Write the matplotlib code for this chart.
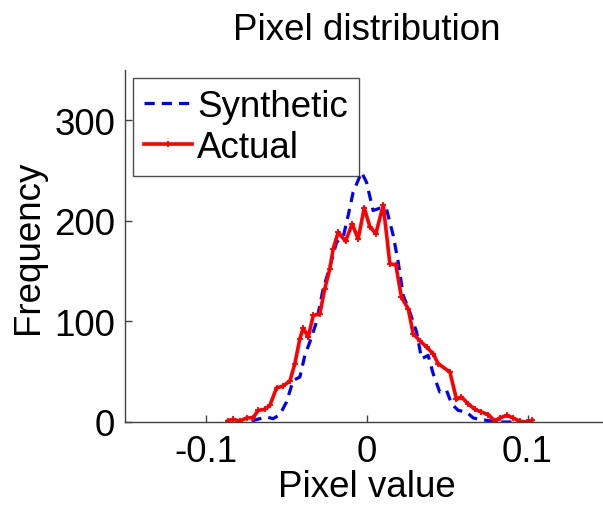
import matplotlib
matplotlib.use("Agg")
import matplotlib.pyplot as plt

plt.rcParams['font.family'] = ['Liberation Sans', 'DejaVu Sans']

# Data
syn_x = [-0.0714, -0.0663, -0.0621, -0.0580, -0.0538, -0.0497, -0.0455, -0.0414, -0.0383, -0.0352,
         -0.0311, -0.0269, -0.0228, -0.0186, -0.0145, -0.0114, -0.0083, -0.0031, 0.0000, 0.0041,
         0.0083, 0.0124, 0.0166, 0.0197, 0.0228, 0.0269, 0.0311, 0.0342, 0.0383, 0.0414,
         0.0455, 0.0497, 0.0528, 0.0569, 0.0621, 0.0663, 0.0704, 0.0745, 0.0787, 0.0828, 0.0932]
syn_y = [1, 3.3, 5, 3.3, 7.3, 19.9, 41.4, 44.7, 66.2, 79.5,
         99.3, 132.5, 154, 178.8, 183.8, 205.3, 228.5, 248.3, 238.4, 210.3,
         212.6, 211.9, 185.4, 158.9, 125.8, 109.3, 89.4, 62.9, 66.2, 48,
         29.8, 31.5, 18.2, 11.6, 9.9, 4, 2.6, 1.7, 0.7, 0, 0]

act_x = [-0.0863, -0.0828, -0.0787, -0.0745, -0.0704, -0.0673, -0.0631, -0.0600, -0.0559, -0.0518,
         -0.0476, -0.0445, -0.0414, -0.0393, -0.0362, -0.0331, -0.0290, -0.0259, -0.0228, -0.0207,
         -0.0176, -0.0130, -0.0089, -0.0052, -0.0014, 0.0021, 0.0058, 0.0104, 0.0145, 0.0182,
         0.0217, 0.0259, 0.0290, 0.0331, 0.0373, 0.0414, 0.0445, 0.0518, 0.0559, 0.0590,
         0.0631, 0.0673, 0.0714, 0.0756, 0.0797, 0.0828, 0.0870, 0.0911, 0.0952, 0.0994, 0.1029]
act_y = [1, 2.6, 1, 4, 4.3, 11.6, 12.6, 16.6, 33.8, 35.8,
         40.7, 58, 82.8, 93.4, 84.4, 105.9, 107.6, 132.5, 152.3, 172.2,
         188.7, 179.8, 197, 182, 213, 194, 187.4, 215.6, 157.3, 156.3,
         124, 112.6, 87.7, 81, 74.5, 67.9, 58, 49.7, 22.5, 24.8,
         18.2, 12.6, 9.9, 7.3, 1, 4, 6.6, 4, 0.7, 0, 1.7]

xticks = [-0.1, 0, 0.1]
xticklabels = ['-0.1', '0', '0.1']
yticks = [0, 100, 200, 300]

FS = 26.5

fig = plt.figure(figsize=(6.03, 5.10), dpi=100)
ax = fig.add_axes([125/603, 87/510, (608-125)/603, (423-71)/510])

ax.plot(syn_x, syn_y, color='#0000ff', linestyle=(0, (3.2, 2.2)), linewidth=2.3, label='Synthetic')
ax.plot(act_x, act_y, color='#ff0000', linestyle='-', linewidth=2.6, marker='+',
        markersize=5, markeredgewidth=1.3, label='Actual')

ax.set_xlim(-0.15, 0.15)
ax.set_ylim(0, 350)
ax.set_xticks(xticks)
ax.set_xticklabels(xticklabels)
ax.set_yticks(yticks)

for s in ['top', 'right']:
    ax.spines[s].set_visible(False)
for s in ['left', 'bottom']:
    ax.spines[s].set_color('#404040')
    ax.spines[s].set_linewidth(1.0)

ax.tick_params(direction='in', length=5, width=1, color='#404040', labelsize=FS, pad=7)
ax.tick_params(axis='x', pad=9)

ax.set_xlabel('Pixel value', fontsize=FS, labelpad=0)
ax.set_ylabel('Frequency', fontsize=FS, labelpad=6)
ax.set_title('Pixel distribution', fontsize=FS, pad=22)

leg = ax.legend(loc='upper left', bbox_to_anchor=(133/603, 1 - 79/510), bbox_transform=fig.transFigure,
                fontsize=FS, frameon=True, fancybox=False, borderaxespad=0, borderpad=0.3,
                handlelength=1.3, handletextpad=0.15, labelspacing=0.15)
leg.get_frame().set_edgecolor('#202020')
leg.get_frame().set_linewidth(1.0)

fig.savefig('out.png', dpi=100)
